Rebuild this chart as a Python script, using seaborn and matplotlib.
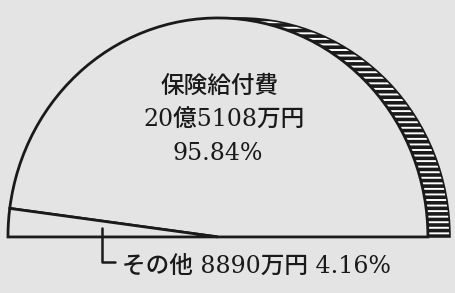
import matplotlib
matplotlib.use("Agg")
import matplotlib.pyplot as plt
import seaborn as sns

# data
labels = ["保険給付費", "その他"]
amounts = ["20億5108万円", "8890万円"]
shares = [95.84, 4.16]

sns.set_theme(style="white")
plt.rcParams['font.family'] = ['DejaVu Serif', 'Noto Sans CJK JP']
plt.rcParams['hatch.linewidth'] = 2.6
plt.rcParams['hatch.color'] = '#151515'

bg = '#e4e4e4'
ink = '#1a1a1a'

fig = plt.figure(figsize=(4.55, 2.93), dpi=100, facecolor=bg)
ax = fig.add_axes([0, 0, 1, 1])
ax.set_facecolor(bg)

# half pie: each share maps onto 180 degrees
half = [s / 200 for s in shares]

# shaded depth band behind the half pie (shifted copy)
ax.pie([sum(half)], center=(0.105, 0), radius=1, startangle=0, normalize=False,
       colors=['white'], hatch='---', frame=True,
       wedgeprops=dict(edgecolor=ink, linewidth=1.2))

# the half pie itself
ax.pie(half, startangle=0, normalize=False, colors=[bg, bg], frame=True,
       wedgeprops=dict(edgecolor=ink, linewidth=2.0))

ax.set_aspect('auto')
ax.set_xlim(-1.038, 1.129)
ax.set_ylim(-0.256, 1.082)
ax.axis('off')

txt = dict(fontsize=17, color=ink, fontweight='medium')

# label of the big slice
ax.text(0.01, 0.687, labels[0], ha='center', va='center', **txt)
ax.text(0.03, 0.534, amounts[0], ha='center', va='center', **txt)
ax.text(0.0, 0.379, f"{shares[0]:.2f}%", ha='center', va='center', **txt)

# leader + label of the small slice
ax.plot([-0.552, -0.552, -0.49], [0.041, -0.114, -0.114], color=ink, lw=1.8)
ax.text(-0.457, -0.135, f"{labels[1]} {amounts[1]} {shares[1]:.2f}%",
        ha='left', va='center', **txt)

fig.savefig("out.png", dpi=100, facecolor=bg)
